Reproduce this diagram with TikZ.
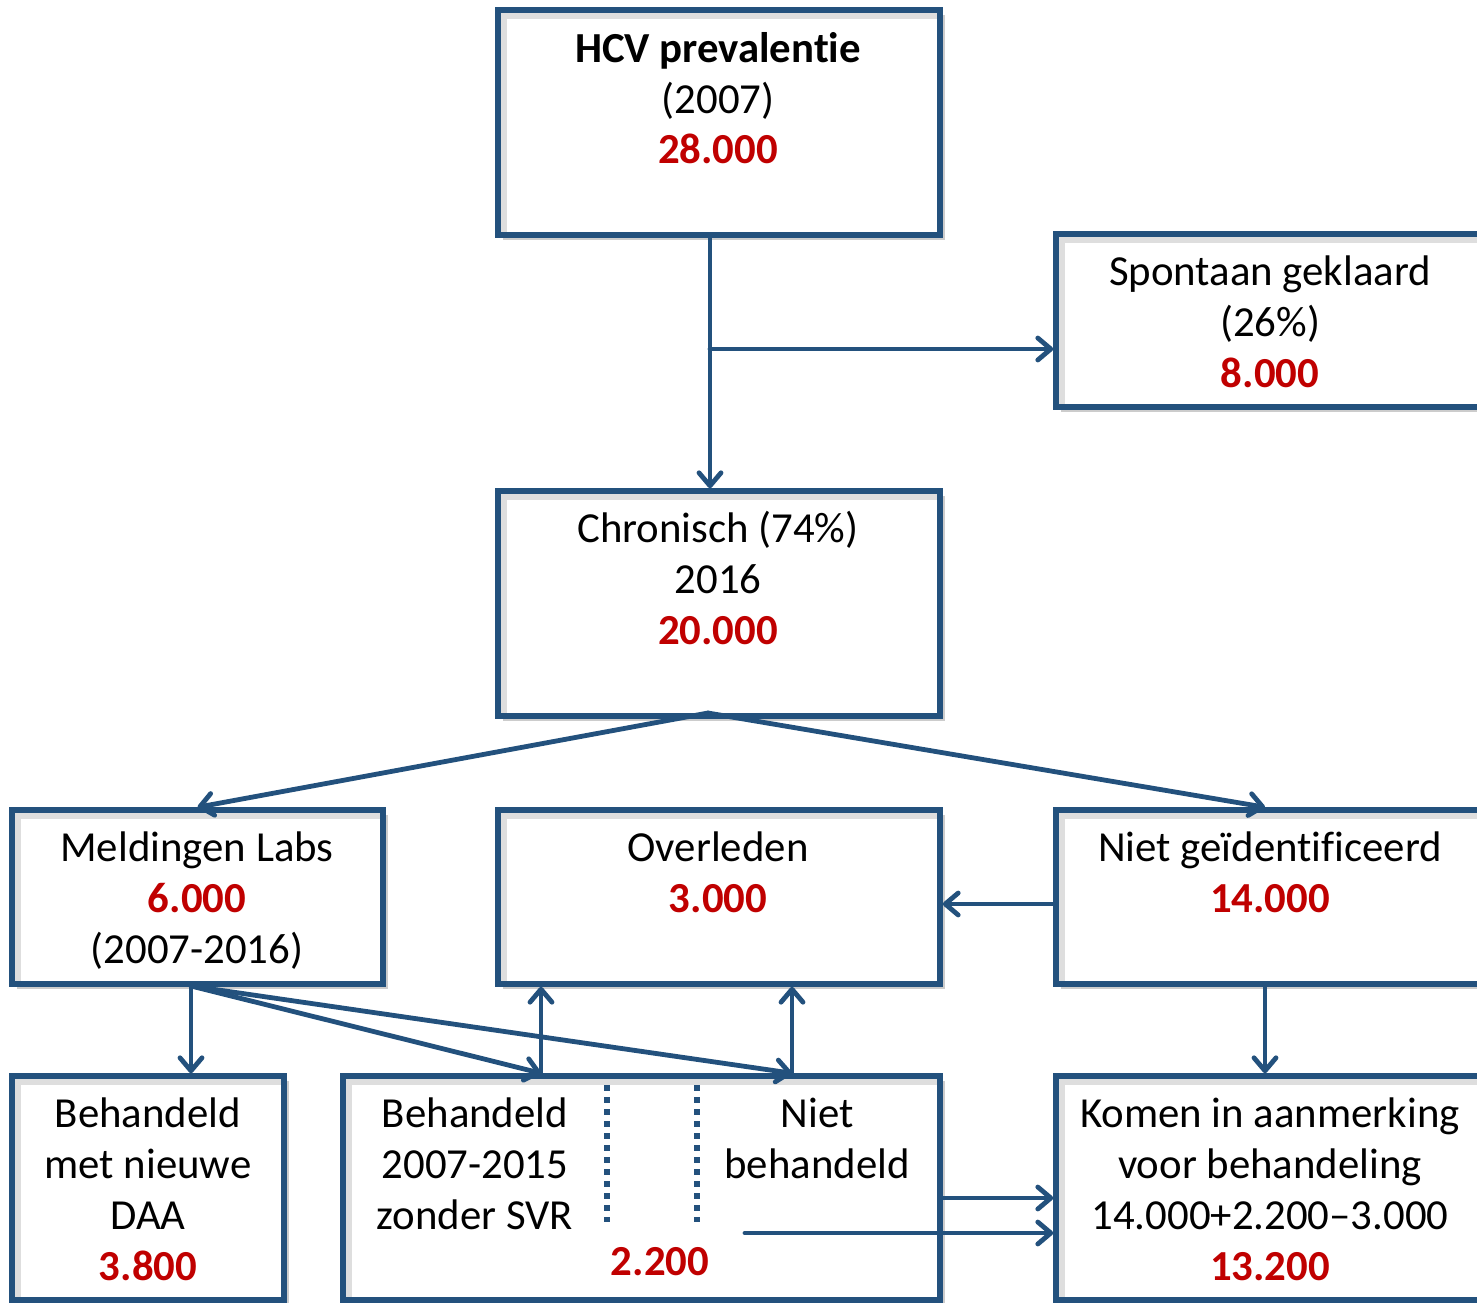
\documentclass[tikz,border=0pt]{standalone}
\usepackage{fontspec}
\setmainfont{Carlito}[Ligatures=NoCommon]
\usetikzlibrary{arrows.meta,shadows}
\definecolor{dblue}{RGB}{35,81,125}
\definecolor{dred}{RGB}{192,0,0}
\begin{document}
\begin{tikzpicture}[x=0.5pt,y=-0.5pt,
  box/.style={draw=dblue, line width=2.8pt, fill=white, inner sep=0pt,
    drop shadow={shadow xshift=2.5pt, shadow yshift=-2.5pt, fill=black, opacity=0.2},
    path picture={\draw[black!13, line width=3pt]
      ([xshift=3pt]path picture bounding box.south west) --
      ([xshift=3pt,yshift=-3pt]path picture bounding box.north west) --
      ([yshift=-3pt]path picture bounding box.north east);}},
  txt/.style={anchor=base, inner sep=0pt, font=\fontsize{21.4}{25.5}\selectfont},
  bld/.style={anchor=base, inner sep=0pt, font=\fontsize{21.4}{25.5}\selectfont\bfseries},
  num/.style={anchor=base, inner sep=0pt, text=dred, font=\fontsize{21.4}{25.5}\selectfont\bfseries},
  arr/.style={draw=dblue, line width=2.4pt, line cap=round,
    -{Straight Barb[length=6.5pt,width=11pt,line cap=round,line join=round]}},
  dotline/.style={draw=dblue, line width=3pt, dash pattern=on 3pt off 3pt}]
\useasboundingbox (0,0) rectangle (1477,1302);
\clip (0,0) rectangle (1477,1302);
% boxes
\node[box, minimum width=221pt, minimum height=112.5pt] (hcv) at (719,122.5) {};
\node[box, minimum width=217pt, minimum height=86.5pt] (spo) at (1273,320.5) {};
\node[box, minimum width=221pt, minimum height=112.5pt] (chr) at (719,603.5) {};
\node[box, minimum width=185.5pt, minimum height=87pt] (mel) at (197.5,897) {};
\node[box, minimum width=221pt, minimum height=87pt] (ovl) at (719,897) {};
\node[box, minimum width=217pt, minimum height=87pt] (nid) at (1273,897) {};
\node[box, minimum width=136pt, minimum height=112pt] (daa) at (148,1188) {};
\node[box, minimum width=298.5pt, minimum height=112pt] (mid) at (641.5,1188) {};
\node[box, minimum width=217pt, minimum height=112pt] (kom) at (1273,1188) {};
% texts
\node[bld] (hcv1) at (718,62) {HCV prevalentie};
\node[txt] (hcv2) at (718,113) {(2007)};
\node[num] (hcv3) at (718,163) {28.000};
\node[txt] (spo1) at (1270,285) {Spontaan geklaard};
\node[txt] (spo2) at (1270,336) {(26\%)};
\node[num] (spo3) at (1270,387) {8.000};
\node[txt] (chr1) at (718,542) {Chronisch (74\%)};
\node[txt] (chr2) at (718,593) {2016};
\node[num] (chr3) at (718,644) {20.000};
\node[txt] (mel1) at (197,861) {Meldingen Labs};
\node[num] (mel2) at (197,912) {6.000};
\node[txt] (mel3) at (197,963) {(2007-2016)};
\node[txt] (ovl1) at (718,861) {Overleden};
\node[num] (ovl2) at (718,912) {3.000};
\node[txt] (nid1) at (1270,861) {Niet geïdentificeerd};
\node[num] (nid2) at (1270,912) {14.000};
\node[txt] (daa1) at (148,1127) {Behandeld};
\node[txt] (daa2) at (148,1178) {met nieuwe};
\node[txt] (daa3) at (148,1229) {DAA};
\node[num] (daa4) at (148,1280) {3.800};
\node[txt] (mid1) at (475,1127) {Behandeld};
\node[txt] (mid2) at (475,1178) {2007-2015};
\node[txt] (mid3) at (475,1229) {zonder SVR};
\node[txt] (mid4) at (817,1127) {Niet};
\node[txt] (mid5) at (817,1178) {behandeld};
\node[num] (mid6) at (660,1275) {2.200};
\node[txt] (kom1) at (1270,1127) {Komen in aanmerking};
\node[txt] (kom2) at (1270,1178) {voor behandeling};
\node[txt] (kom3) at (1270,1229) {14.000+2.200–3.000};
\node[num] (kom4) at (1270,1280) {13.200};
% helper coordinates
\coordinate (j1) at (710,349);
\coordinate (c2) at (708,713);
\coordinate (xn) at (1265,0);
\coordinate (m0) at (191,986);
\coordinate (t1) at (541,0);
\coordinate (t2) at (792,0);
\coordinate (y904) at (0,904);
\coordinate (y1198) at (0,1198);
\coordinate (s2) at (745,1233);
\coordinate (d1a) at (607,1085);
\coordinate (d1b) at (607,1222);
\coordinate (d2a) at (697,1085);
\coordinate (d2b) at (697,1222);
% dotted separators
\draw[dotline] (d1a) -- (d1b);
\draw[dotline] (d2a) -- (d2b);
% connectors
\draw[arr] (hcv.south -| j1) -- (chr.north -| j1);
\draw[arr] (j1) -- (spo.west |- j1);
\draw[arr] (c2) -- (mel.north);
\draw[arr] (c2) -- (nid.north -| xn);
\draw[arr] (m0) -- (daa.north -| m0);
\draw[arr] (m0) -- (mid.north -| t1);
\draw[arr] (m0) -- (mid.north -| t2);
\draw[arr] (mid.north -| t1) -- (ovl.south -| t1);
\draw[arr] (mid.north -| t2) -- (ovl.south -| t2);
\draw[arr] (nid.west |- y904) -- (ovl.east |- y904);
\draw[arr] (nid.south -| xn) -- (kom.north -| xn);
\draw[arr] (mid.east |- y1198) -- (kom.west |- y1198);
\draw[arr] (s2) -- (kom.west |- s2);
\end{tikzpicture}
\end{document}
